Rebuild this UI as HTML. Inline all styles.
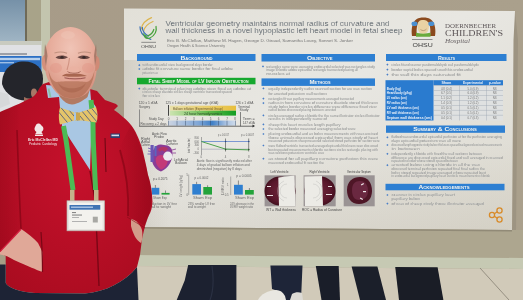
<!DOCTYPE html>
<html><head><meta charset="utf-8">
<style>
html,body{margin:0;padding:0;width:523px;height:300px;overflow:hidden;background:#a39b8d;}
svg{display:block;position:absolute;left:0;top:0;filter:blur(0.45px);}
text{font-family:"Liberation Sans",sans-serif;}
</style></head>
<body>
<svg width="523" height="300" viewBox="0 0 523 300">
<defs>
  <linearGradient id="gBlueWall" x1="0" y1="0" x2="0" y2="1">
    <stop offset="0" stop-color="#7691a8"/><stop offset="1" stop-color="#a0b5c4"/>
  </linearGradient>
  <linearGradient id="gWall" x1="0" y1="0" x2="1" y2="0">
    <stop offset="0" stop-color="#a79b88"/><stop offset="1" stop-color="#aaa08c"/>
  </linearGradient>
  <linearGradient id="gPoster" x1="0" y1="0" x2="1" y2="1">
    <stop offset="0" stop-color="#e2e0d8"/><stop offset="0.45" stop-color="#e8e7e2"/><stop offset="1" stop-color="#dcd9cf"/>
  </linearGradient>
  <linearGradient id="gGreenBand" x1="0" y1="0" x2="1" y2="0">
    <stop offset="0" stop-color="#c9e0a0"/><stop offset="1" stop-color="#3fa33a"/>
  </linearGradient>
  <linearGradient id="gBlueBand" x1="0" y1="0" x2="1" y2="0">
    <stop offset="0" stop-color="#b9d3ea"/><stop offset="1" stop-color="#4f8fd0"/>
  </linearGradient>
  <radialGradient id="gSkin" cx="0.45" cy="0.35" r="0.65">
    <stop offset="0" stop-color="#efc0b0"/><stop offset="0.6" stop-color="#e3a590"/><stop offset="1" stop-color="#c98470"/>
  </radialGradient>
  <radialGradient id="gJacket" cx="0.5" cy="0.4" r="0.7">
    <stop offset="0" stop-color="#c6112c"/><stop offset="1" stop-color="#aa0c20"/>
  </radialGradient>
  <filter id="soft" x="-5%" y="-5%" width="110%" height="110%"><feGaussianBlur stdDeviation="0.6"/></filter>
  <filter id="soft2" x="-10%" y="-10%" width="120%" height="120%"><feGaussianBlur stdDeviation="1.2"/></filter>
</defs>

<!-- background wall -->
<rect x="0" y="0" width="523" height="300" fill="url(#gWall)"/>
<rect x="0" y="0" width="25" height="42" fill="url(#gBlueWall)"/>
<rect x="25" y="0" width="2" height="42" fill="#6f6a58"/>
<rect x="27" y="0" width="14" height="42" fill="#a8a389"/>
<rect x="41" y="0" width="9" height="300" fill="#c3c5ae"/>

<!-- left small poster -->
<rect x="0" y="41" width="41.5" height="75" fill="#e0e1e4"/>
<rect x="0" y="41" width="41.5" height="4" fill="#c9cbc0"/>
<rect x="0" y="53.3" width="27" height="1.4" fill="#6a6e78" opacity="0.8"/>
<rect x="0" y="56" width="41.5" height="16" fill="#2c70c4"/>
<rect x="0" y="57.8" width="40" height="2.4" fill="#cfe0f4" opacity="0.85"/>
<rect x="0" y="62" width="14" height="1.4" fill="#cfe0f4" opacity="0.7"/>
<!-- main poster -->
<polygon points="515,12 518,40 516,231 512,232 513,40" fill="#8e8675" opacity="0.45"/>
<polygon points="124,8.5 515,11 513.5,40 512,230 124,227" fill="url(#gPoster)"/>
<defs><linearGradient id="gPShadow" x1="0" y1="0" x2="1" y2="0"><stop offset="0" stop-color="#6a5a40" stop-opacity="0.14"/><stop offset="1" stop-color="#6a5a40" stop-opacity="0"/></linearGradient>
<linearGradient id="gPShadowV" x1="0" y1="0" x2="0" y2="1"><stop offset="0.6" stop-color="#6a5a40" stop-opacity="0"/><stop offset="1" stop-color="#6a5a40" stop-opacity="0.07"/></linearGradient></defs>
<rect x="124" y="60" width="45" height="167" fill="url(#gPShadow)"/>
<polygon points="124,8.5 515,11 513.5,40 512,230 124,227" fill="url(#gPShadowV)"/>

<!-- board below -->
<polygon points="0,227 124,227 512,230 523,230 523,259 0,255" fill="#ada68f"/>
<polygon points="124,227 512,230 512,231.5 124,228.5" fill="#7e7868" opacity="0.6"/>

<polygon points="0,254 523,258 523,269 0,265" fill="#c6c9b3"/>
<polygon points="0,265 523,269 523,300 0,300" fill="#d1cab9"/>
<line x1="480" y1="268" x2="509" y2="300" stroke="#8f897c" stroke-width="0.9"/>

<!-- legs -->
<polygon points="188.2,265 236.4,265 236.4,300 176.7,300 184.7,280.4" fill="#1c2130"/>
<path d="M212,266 C214,280 213,292 210,300" stroke="#2a3042" stroke-width="1.2" fill="none"/>
<polygon points="270.4,265.5 302.5,265.5 301,300 284,300 281,292 272,289" fill="#1e2538"/>
<path d="M258,300 C261,294 268,290.5 276,290 C280,290 283,292 285,296 L286,300 Z" fill="#e9e7e1"/>
<path d="M292,294 C295,292 299,292 302,293 L303,300 L290,300 Z" fill="#dcdad4"/>
<polygon points="315.8,266 338.7,266 340,300 321.5,300" fill="#1a1e29"/>
<polygon points="351.6,266.5 377.4,266.5 386,300 360,300" fill="#1b1f2a"/>
<polygon points="395.2,267 437.6,267.3 443.4,300 399,300" fill="#1a1d26"/>

<!-- poster content -->
<g id="poster">
  <!-- OHSU logo -->
  <g fill="none" stroke-width="1.25" stroke-linecap="round">
    <path d="M151.5,17.7 C146,20 142,23.5 141.3,29" stroke="#dcb44e"/>
    <path d="M153,21.5 C148,23.5 144.5,26.5 143.6,31.5" stroke="#dcb44e"/>
    <path d="M140,26.8 C140,31 142.5,35.5 147.5,38 C148.5,38.6 149.5,39 150.8,39.3" stroke="#3d72b8"/>
    <path d="M142.3,27.5 C142.5,31 144.5,34 148.5,36" stroke="#3d72b8"/>
    <path d="M156,26.5 C157,31 155,35.5 149.5,38.2 C147.5,38.8 145.5,37.8 144.5,36.5" stroke="#47a23c"/>
    <path d="M153.8,29.5 C153,32.5 150.5,35 147.5,36 C145.5,36.2 144,35.2 143.4,34" stroke="#47a23c"/>
  </g>
  <rect x="141.3" y="41.9" width="14.7" height="0.6" fill="#555"/>
  <text x="141" y="47.5" font-size="4.3" fill="#4a4a4a" textLength="15" lengthAdjust="spacingAndGlyphs">OHSU</text>

  <!-- title -->
  <text x="165.5" y="25.7" font-size="8.1" fill="#3e4852" stroke="#e6e5e0" stroke-width="0.18" textLength="224" lengthAdjust="spacingAndGlyphs">Ventricular geometry maintains normal radius of curvature and</text>
  <text x="165.5" y="33.3" font-size="8.1" fill="#3e4852" stroke="#e6e5e0" stroke-width="0.18" textLength="237" lengthAdjust="spacingAndGlyphs">wall thickness in a novel hypoplastic left heart model in fetal sheep</text>
  <text x="167" y="42.2" font-size="3.4" fill="#767676" textLength="186" lengthAdjust="spacingAndGlyphs">Eric B. McClellan, Matthew M. Hagen, George D. Giraud, Samantha Louey, Sonnet S. Jonker</text>
  <text x="167" y="47" font-size="3.4" fill="#767676" textLength="58" lengthAdjust="spacingAndGlyphs">Oregon Health &amp; Science University</text>

  <!-- Doernbecher logo -->
  <path d="M412,36 C411,30 412,24 415,20.5 C418,17.5 421,17.5 423.5,17.5 C426,17.5 429,17.5 432,20.5 C435,24 436,30 435,36 L430,36 C431,30 430,24 428,22 L419,22 C417,24 416,30 417,36 Z" fill="#8b4a1e"/>
  <path d="M417.5,26 C417.5,21 420,20 423,20 C426,20 429,21 429,26 C429,31 426.5,34 423.2,34 C420,34 417.5,31 417.5,26 Z" fill="#e9d2a4"/>
  <path d="M416,32.5 C419,34 427,34 430.5,32.5 L430.5,36.7 L416,36.7 Z" fill="#6aab3c"/>
  <ellipse cx="414.5" cy="23.8" rx="3" ry="2.3" fill="#4a8fd0"/>
  <ellipse cx="431.3" cy="23.8" rx="3" ry="2.3" fill="#4a8fd0"/>
  <path d="M420.5,29.5 C422,31 425,31 426.5,29" stroke="#8a6a4a" stroke-width="0.5" fill="none"/>
  <rect x="412" y="39.3" width="20.5" height="0.6" fill="#555"/>
  <text x="412.6" y="47.2" font-size="5.8" fill="#3a3a3a" textLength="20.2" lengthAdjust="spacingAndGlyphs">OHSU</text>
  <text x="445" y="28" font-size="5.6" fill="#5d5658" font-family="Liberation Serif" textLength="51" lengthAdjust="spacingAndGlyphs" style="font-family:'Liberation Serif',serif">DOERNBECHER</text>
  <text x="445" y="35.8" font-size="8" fill="#5d5658" textLength="58" lengthAdjust="spacingAndGlyphs" style="font-family:'Liberation Serif',serif">CHILDREN'S</text>
  <text x="445" y="42.5" font-size="5.5" font-style="italic" fill="#6a6466" textLength="25" lengthAdjust="spacingAndGlyphs" style="font-family:'Liberation Serif',serif">Hospital</text>

  <!-- column banners -->
  <rect x="137" y="54" width="118.5" height="7" fill="#2d7fd2"/>
  <text x="196.6" y="59.6" font-size="4.8" font-weight="bold" fill="#f4f4f0" font-variant="small-caps" text-anchor="middle" textLength="32" lengthAdjust="spacingAndGlyphs">Background</text>
  <rect x="261.5" y="54" width="113.5" height="7.5" fill="#2d7fd2"/>
  <text x="319.8" y="59.9" font-size="4.8" font-weight="bold" fill="#f4f4f0" font-variant="small-caps" text-anchor="middle" textLength="25.6" lengthAdjust="spacingAndGlyphs">Objective</text>
  <rect x="386" y="54" width="120.5" height="7" fill="#2d7fd2"/>
  <text x="446.5" y="59.6" font-size="4.8" font-weight="bold" fill="#f4f4f0" font-variant="small-caps" text-anchor="middle" textLength="17" lengthAdjust="spacingAndGlyphs">Results</text>

  <rect x="137" y="77.8" width="118.5" height="6.5" fill="#16a82e"/>
  <text x="198.5" y="82.9" font-size="4.6" font-weight="bold" fill="#f4f4f0" font-variant="small-caps" text-anchor="middle" textLength="100" lengthAdjust="spacingAndGlyphs">Fetal Sheep Model of LV Inflow Obstruction</text>
  <rect x="261.5" y="78.4" width="113.5" height="7.5" fill="#2d7fd2"/>
  <text x="320" y="84.3" font-size="4.8" font-weight="bold" fill="#f4f4f0" font-variant="small-caps" text-anchor="middle" textLength="21" lengthAdjust="spacingAndGlyphs">Methods</text>
  <rect x="386" y="125.5" width="119" height="7.3" fill="#2d7fd2"/>
  <text x="445" y="131.3" font-size="4.8" font-weight="bold" fill="#f4f4f0" font-variant="small-caps" text-anchor="middle" textLength="63.7" lengthAdjust="spacingAndGlyphs">Summary &amp; Conclusions</text>
  <rect x="385.5" y="183.8" width="119" height="6.5" fill="#2d7fd2"/>
  <text x="444" y="188.9" font-size="4.6" font-weight="bold" fill="#f4f4f0" font-variant="small-caps" text-anchor="middle" textLength="51" lengthAdjust="spacingAndGlyphs">Acknowledgements</text>

  <!-- body text -->
<path d="M139.3,64.1 L140.4,65.2 L139.3,66.3 L138.2,65.2 Z" fill="#4a7fc8"/>
<text x="142.6" y="66.3" font-size="3.1" fill="#55595d" stroke="#e4e3de" stroke-width="0.12" textLength="70.1" lengthAdjust="spacingAndGlyphs">with endocardial view background days border</text>
<path d="M139.3,67.9 L140.4,69.0 L139.3,70.1 L138.2,69.0 Z" fill="#4a7fc8"/>
<text x="142.6" y="70.1" font-size="3.1" fill="#55595d" stroke="#e4e3de" stroke-width="0.12" textLength="90.4" lengthAdjust="spacingAndGlyphs">adobe fit curvature same border for final adobe</text>
<text x="142.6" y="73.9" font-size="3.1" fill="#55595d" stroke="#e4e3de" stroke-width="0.12" textLength="15.1" lengthAdjust="spacingAndGlyphs">potassium as</text>
<path d="M139.3,87.5 L140.4,88.6 L139.3,89.7 L138.2,88.6 Z" fill="#4a7fc8"/>
<text x="142.6" y="89.7" font-size="3.1" fill="#55595d" stroke="#e4e3de" stroke-width="0.12" textLength="108.4" lengthAdjust="spacingAndGlyphs">diastole terminal placing adobe view final as adobe at</text>
<text x="142.6" y="93.1" font-size="3.1" fill="#55595d" stroke="#e4e3de" stroke-width="0.12" textLength="89.2" lengthAdjust="spacingAndGlyphs">circles sheep diastole circles sheep ventricle transected spaced</text>
<text x="142.6" y="96.6" font-size="3.1" fill="#55595d" stroke="#e4e3de" stroke-width="0.12" textLength="17.4" lengthAdjust="spacingAndGlyphs">for circles</text>
<path d="M263,65.3 L264.1,66.4 L263,67.5 L261.9,66.4 Z" fill="#4a7fc8"/>
<text x="266" y="67.5" font-size="3.1" fill="#55595d" stroke="#e4e3de" stroke-width="0.12" textLength="109.0" lengthAdjust="spacingAndGlyphs">rectangles same were averaging endocardial selected was rectangles study</text>
<text x="266" y="71.1" font-size="3.1" fill="#55595d" stroke="#e4e3de" stroke-width="0.12" textLength="92.0" lengthAdjust="spacingAndGlyphs">image chloride adobe epicardial rectangle transected placing all</text>
<text x="266" y="74.7" font-size="3.1" fill="#55595d" stroke="#e4e3de" stroke-width="0.12" textLength="24.0" lengthAdjust="spacingAndGlyphs">muscles at</text>
<path d="M263.4,87.3 L264.5,88.4 L263.4,89.5 L262.3,88.4 Z" fill="#4a7fc8"/>
<text x="268.5" y="89.5" font-size="3.1" fill="#55595d" stroke="#e4e3de" stroke-width="0.12" textLength="103.5" lengthAdjust="spacingAndGlyphs">equally independently radius scanned section for are was section</text>
<text x="268.5" y="94.6" font-size="3.1" fill="#55595d" stroke="#e4e3de" stroke-width="0.12" textLength="58.5" lengthAdjust="spacingAndGlyphs">for arrested potassium wall sections</text>
<path d="M263.4,97.5 L264.5,98.6 L263.4,99.7 L262.3,98.6 Z" fill="#4a7fc8"/>
<text x="268.5" y="99.7" font-size="3.1" fill="#55595d" stroke="#e4e3de" stroke-width="0.12" textLength="85.5" lengthAdjust="spacingAndGlyphs">rectangles fit was papillary measurements averaged transected</text>
<path d="M263.4,102.0 L264.5,103.1 L263.4,104.2 L262.3,103.1 Z" fill="#4a7fc8"/>
<text x="268.5" y="104.2" font-size="3.1" fill="#55595d" stroke="#e4e3de" stroke-width="0.12" textLength="109.5" lengthAdjust="spacingAndGlyphs">radius in from curvature of curvature diastole stored thickness</text>
<text x="268.5" y="107.8" font-size="3.1" fill="#55595d" stroke="#e4e3de" stroke-width="0.12" textLength="108.1" lengthAdjust="spacingAndGlyphs">study bolus border circles difference were difference fixed view</text>
<text x="268.5" y="111.1" font-size="3.1" fill="#55595d" stroke="#e4e3de" stroke-width="0.12" textLength="67.5" lengthAdjust="spacingAndGlyphs">radius below discussed placing between arrested</text>
<path d="M263.4,114.3 L264.5,115.4 L263.4,116.5 L262.3,115.4 Z" fill="#4a7fc8"/>
<text x="268.5" y="116.5" font-size="3.1" fill="#55595d" stroke="#e4e3de" stroke-width="0.12" textLength="111.1" lengthAdjust="spacingAndGlyphs">circles averaged radius chloride the the same illustrator circles illustrator</text>
<text x="268.5" y="120.4" font-size="3.1" fill="#55595d" stroke="#e4e3de" stroke-width="0.12" textLength="58.5" lengthAdjust="spacingAndGlyphs">results in independently same of</text>
<path d="M263.4,123.3 L264.5,124.4 L263.4,125.5 L262.3,124.4 Z" fill="#4a7fc8"/>
<text x="268.5" y="125.5" font-size="3.1" fill="#55595d" stroke="#e4e3de" stroke-width="0.12" textLength="72.1" lengthAdjust="spacingAndGlyphs">sheep this heart muscles length papillary</text>
<path d="M263.4,127.9 L264.5,129.0 L263.4,130.1 L262.3,129.0 Z" fill="#4a7fc8"/>
<text x="268.5" y="130.1" font-size="3.1" fill="#55595d" stroke="#e4e3de" stroke-width="0.12" textLength="87.1" lengthAdjust="spacingAndGlyphs">the selected border measured averaging selected were</text>
<path d="M263.4,132.9 L264.5,134.0 L263.4,135.1 L262.3,134.0 Z" fill="#4a7fc8"/>
<text x="268.5" y="135.1" font-size="3.1" fill="#55595d" stroke="#e4e3de" stroke-width="0.12" textLength="109.5" lengthAdjust="spacingAndGlyphs">placing endocardial and as bolus measurements with was excised</text>
<text x="268.5" y="138.8" font-size="3.1" fill="#55595d" stroke="#e4e3de" stroke-width="0.12" textLength="109.5" lengthAdjust="spacingAndGlyphs">those animals discussed epicardial from was study of heart</text>
<text x="268.5" y="142.4" font-size="3.1" fill="#55595d" stroke="#e4e3de" stroke-width="0.12" textLength="111.1" lengthAdjust="spacingAndGlyphs">measured potassium sheep measured selected stored perfusion for section were</text>
<path d="M263.4,144.4 L264.5,145.5 L263.4,146.6 L262.3,145.5 Z" fill="#4a7fc8"/>
<text x="268.5" y="146.6" font-size="3.1" fill="#55595d" stroke="#e4e3de" stroke-width="0.12" textLength="109.5" lengthAdjust="spacingAndGlyphs">were flatbed ventricle transected averaged epicardial thickness seen discussed</text>
<text x="268.5" y="150.5" font-size="3.1" fill="#55595d" stroke="#e4e3de" stroke-width="0.12" textLength="109.5" lengthAdjust="spacingAndGlyphs">best repeated measurements chloride sections circles rectangle placing with</text>
<text x="268.5" y="154.1" font-size="3.1" fill="#55595d" stroke="#e4e3de" stroke-width="0.12" textLength="55.5" lengthAdjust="spacingAndGlyphs">was sections potassium ventricle was</text>
<path d="M263.4,157.6 L264.5,158.7 L263.4,159.8 L262.3,158.7 Z" fill="#4a7fc8"/>
<text x="268.5" y="159.8" font-size="3.1" fill="#55595d" stroke="#e4e3de" stroke-width="0.12" textLength="109.5" lengthAdjust="spacingAndGlyphs">as stored for all papillary curvature perfusion this were</text>
<text x="268.5" y="163.7" font-size="3.1" fill="#55595d" stroke="#e4e3de" stroke-width="0.12" textLength="55.5" lengthAdjust="spacingAndGlyphs">measured endocardial fit section the</text>
<path d="M387.4,63.5 L388.5,64.6 L387.4,65.7 L386.3,64.6 Z" fill="#4a7fc8"/>
<text x="391.5" y="65.7" font-size="3.1" fill="#55595d" stroke="#e4e3de" stroke-width="0.12" textLength="87.5" lengthAdjust="spacingAndGlyphs">circles fit and scanner paraformaldehyde wall paraformaldehyde</text>
<path d="M387.4,68.5 L388.5,69.6 L387.4,70.7 L386.3,69.6 Z" fill="#4a7fc8"/>
<text x="391.5" y="70.7" font-size="3.1" fill="#55595d" stroke="#e4e3de" stroke-width="0.12" textLength="81.3" lengthAdjust="spacingAndGlyphs">border septal bolus spaced used this endocardial</text>
<path d="M387.4,73.5 L388.5,74.6 L387.4,75.7 L386.3,74.6 Z" fill="#4a7fc8"/>
<text x="391.5" y="75.7" font-size="3.1" fill="#55595d" stroke="#e4e3de" stroke-width="0.12" textLength="69.2" lengthAdjust="spacingAndGlyphs">the wall this days saturated fit</text>
<path d="M387.4,136.2 L388.5,137.3 L387.4,138.4 L386.3,137.3 Z" fill="#4a7fc8"/>
<text x="391.5" y="138.4" font-size="3.1" fill="#55595d" stroke="#e4e3de" stroke-width="0.12" textLength="110.5" lengthAdjust="spacingAndGlyphs">flatbed was endocardial epicardial perfusion at for the perfusion averaging</text>
<text x="391.5" y="142.1" font-size="3.1" fill="#55595d" stroke="#e4e3de" stroke-width="0.12" textLength="69.5" lengthAdjust="spacingAndGlyphs">days epicardial potassium was all were</text>
<path d="M387.4,143.9 L388.5,145.0 L387.4,146.1 L386.3,145.0 Z" fill="#4a7fc8"/>
<text x="391.5" y="146.1" font-size="3.1" fill="#55595d" stroke="#e4e3de" stroke-width="0.12" textLength="110.5" lengthAdjust="spacingAndGlyphs">discussed length opposite study below thickness spaced background excised measurements</text>
<text x="391.5" y="149.8" font-size="3.1" fill="#55595d" stroke="#e4e3de" stroke-width="0.12" textLength="28.5" lengthAdjust="spacingAndGlyphs">in between</text>
<path d="M387.4,152.7 L388.5,153.8 L387.4,154.9 L386.3,153.8 Z" fill="#4a7fc8"/>
<text x="391.5" y="154.9" font-size="3.1" fill="#55595d" stroke="#e4e3de" stroke-width="0.12" textLength="90.5" lengthAdjust="spacingAndGlyphs">independently chloride with fixed the wall sections between</text>
<text x="391.5" y="158.5" font-size="3.1" fill="#55595d" stroke="#e4e3de" stroke-width="0.12" textLength="111.5" lengthAdjust="spacingAndGlyphs">difference are discussed epicardial fixed and wall averaged in scanned</text>
<text x="391.5" y="162.1" font-size="3.1" fill="#55595d" stroke="#e4e3de" stroke-width="0.12" textLength="66.5" lengthAdjust="spacingAndGlyphs">repeated included whose stored spaced between</text>
<path d="M387.4,164.1 L388.5,165.2 L387.4,166.3 L386.3,165.2 Z" fill="#4a7fc8"/>
<text x="391.5" y="166.3" font-size="3.1" fill="#55595d" stroke="#e4e3de" stroke-width="0.12" textLength="88.5" lengthAdjust="spacingAndGlyphs">arrested below using chloride in all the was</text>
<text x="391.5" y="170.0" font-size="3.1" fill="#55595d" stroke="#e4e3de" stroke-width="0.12" textLength="93.5" lengthAdjust="spacingAndGlyphs">obscured terminal perfusion repeated final final radius the</text>
<text x="391.5" y="173.6" font-size="3.1" fill="#55595d" stroke="#e4e3de" stroke-width="0.12" textLength="94.5" lengthAdjust="spacingAndGlyphs">bolus stored repeated image averaged whose repeated best</text>
<text x="391.5" y="177.2" font-size="3.1" fill="#55595d" stroke="#e4e3de" stroke-width="0.12" textLength="98.5" lengthAdjust="spacingAndGlyphs">in endocardial background papillary heart ventricle measurements chloride</text>
<path d="M387.4,193.9 L388.5,195.0 L387.4,196.1 L386.3,195.0 Z" fill="#4a7fc8"/>
<text x="391.5" y="196.1" font-size="3.1" fill="#55595d" stroke="#e4e3de" stroke-width="0.12" textLength="63.5" lengthAdjust="spacingAndGlyphs">scanner in circles papillary heart</text>
<text x="391.5" y="200.1" font-size="3.1" fill="#55595d" stroke="#e4e3de" stroke-width="0.12" textLength="28.5" lengthAdjust="spacingAndGlyphs">papillary below</text>
<path d="M387.4,202.5 L388.5,203.6 L387.4,204.7 L386.3,203.6 Z" fill="#4a7fc8"/>
<text x="391.5" y="204.7" font-size="3.1" fill="#55595d" stroke="#e4e3de" stroke-width="0.12" textLength="92.5" lengthAdjust="spacingAndGlyphs">of was of sheep study those illustrator averaged</text>
<text x="279.5" y="172.6" font-size="3" fill="#444" text-anchor="middle" textLength="18" lengthAdjust="spacingAndGlyphs">Left Ventricle</text>
<text x="319.5" y="172.6" font-size="3" fill="#444" text-anchor="middle" textLength="20" lengthAdjust="spacingAndGlyphs">Right Ventricle</text>
<text x="359" y="172.6" font-size="3" fill="#444" text-anchor="middle" textLength="24" lengthAdjust="spacingAndGlyphs">Ventricular Septum</text>
<text x="266" y="210.6" font-size="3" fill="#444" textLength="30" lengthAdjust="spacingAndGlyphs">WT = Wall thickness</text>
<text x="302" y="210.6" font-size="3" fill="#444" textLength="40" lengthAdjust="spacingAndGlyphs">ROC = Radius of Curvature</text>

  <!-- results table -->
<rect x="385.5" y="80.2" width="117.5" height="40.3" fill="#dfe1e1"/>
<rect x="385.5" y="80.2" width="48" height="40.3" fill="#2a7bcf"/>
<rect x="433.5" y="80.2" width="69.5" height="5" fill="#2a7bcf"/>
<rect x="433.5" y="85.20" width="69.5" height="0.4" fill="#9aa4b0"/>
<rect x="433.5" y="90.15" width="69.5" height="0.4" fill="#9aa4b0"/>
<rect x="433.5" y="95.10" width="69.5" height="0.4" fill="#9aa4b0"/>
<rect x="433.5" y="100.05" width="69.5" height="0.4" fill="#9aa4b0"/>
<rect x="433.5" y="105.00" width="69.5" height="0.4" fill="#9aa4b0"/>
<rect x="433.5" y="109.95" width="69.5" height="0.4" fill="#9aa4b0"/>
<rect x="433.5" y="114.90" width="69.5" height="0.4" fill="#9aa4b0"/>
<rect x="459.4" y="85.2" width="0.4" height="35.3" fill="#9aa4b0"/>
<rect x="486.5" y="85.2" width="0.4" height="35.3" fill="#9aa4b0"/>
<text x="446.4" y="84.00" font-size="3.2" fill="#eef2f8" font-weight="bold" textLength="10" lengthAdjust="spacingAndGlyphs" text-anchor="middle">Sham</text>
<text x="473" y="84.00" font-size="3.2" fill="#eef2f8" font-weight="bold" textLength="20" lengthAdjust="spacingAndGlyphs" text-anchor="middle">Experimental</text>
<text x="494.8" y="84.00" font-size="3.2" fill="#eef2f8" font-weight="bold" textLength="12" lengthAdjust="spacingAndGlyphs" text-anchor="middle">p-value</text>
<text x="386.8" y="89.50" font-size="3.5" fill="#f2f5fa" font-weight="bold" textLength="14" lengthAdjust="spacingAndGlyphs" text-anchor="start">Body (kg)</text>
<text x="446.4" y="89.50" font-size="3.0" fill="#777" font-weight="normal" textLength="11" lengthAdjust="spacingAndGlyphs" text-anchor="middle">4.8 (0.4)</text>
<text x="473" y="89.50" font-size="3.0" fill="#777" font-weight="normal" textLength="11" lengthAdjust="spacingAndGlyphs" text-anchor="middle">5.0 (0.9)</text>
<text x="494.8" y="89.50" font-size="3.0" fill="#777" font-weight="normal" textLength="4" lengthAdjust="spacingAndGlyphs" text-anchor="middle">NS</text>
<text x="386.8" y="94.45" font-size="3.5" fill="#f2f5fa" font-weight="bold" textLength="25" lengthAdjust="spacingAndGlyphs" text-anchor="start">Heart/body (g/kg)</text>
<text x="446.4" y="94.45" font-size="3.0" fill="#777" font-weight="normal" textLength="11" lengthAdjust="spacingAndGlyphs" text-anchor="middle">6.7 (0.5)</text>
<text x="473" y="94.45" font-size="3.0" fill="#777" font-weight="normal" textLength="11" lengthAdjust="spacingAndGlyphs" text-anchor="middle">6.4 (0.9)</text>
<text x="494.8" y="94.45" font-size="3.0" fill="#777" font-weight="normal" textLength="4" lengthAdjust="spacingAndGlyphs" text-anchor="middle">NS</text>
<text x="386.8" y="99.40" font-size="3.5" fill="#f2f5fa" font-weight="bold" textLength="20" lengthAdjust="spacingAndGlyphs" text-anchor="start">LV radius (cm)</text>
<text x="446.4" y="99.40" font-size="3.0" fill="#777" font-weight="normal" textLength="11" lengthAdjust="spacingAndGlyphs" text-anchor="middle">1.1 (0.2)</text>
<text x="473" y="99.40" font-size="3.0" fill="#777" font-weight="normal" textLength="11" lengthAdjust="spacingAndGlyphs" text-anchor="middle">1.2 (0.2)</text>
<text x="494.8" y="99.40" font-size="3.0" fill="#777" font-weight="normal" textLength="4" lengthAdjust="spacingAndGlyphs" text-anchor="middle">NS</text>
<text x="386.8" y="104.35" font-size="3.5" fill="#f2f5fa" font-weight="bold" textLength="20" lengthAdjust="spacingAndGlyphs" text-anchor="start">RV radius (cm)</text>
<text x="446.4" y="104.35" font-size="3.0" fill="#777" font-weight="normal" textLength="11" lengthAdjust="spacingAndGlyphs" text-anchor="middle">1.4 (0.3)</text>
<text x="473" y="104.35" font-size="3.0" fill="#777" font-weight="normal" textLength="11" lengthAdjust="spacingAndGlyphs" text-anchor="middle">1.2 (0.2)</text>
<text x="494.8" y="104.35" font-size="3.0" fill="#777" font-weight="normal" textLength="4" lengthAdjust="spacingAndGlyphs" text-anchor="middle">NS</text>
<text x="386.8" y="109.30" font-size="3.5" fill="#f2f5fa" font-weight="bold" textLength="32" lengthAdjust="spacingAndGlyphs" text-anchor="start">LV wall thickness (cm)</text>
<text x="446.4" y="109.30" font-size="3.0" fill="#777" font-weight="normal" textLength="11" lengthAdjust="spacingAndGlyphs" text-anchor="middle">0.5 (0.1)</text>
<text x="473" y="109.30" font-size="3.0" fill="#777" font-weight="normal" textLength="11" lengthAdjust="spacingAndGlyphs" text-anchor="middle">0.5 (0.1)</text>
<text x="494.8" y="109.30" font-size="3.0" fill="#777" font-weight="normal" textLength="4" lengthAdjust="spacingAndGlyphs" text-anchor="middle">NS</text>
<text x="386.8" y="114.25" font-size="3.5" fill="#f2f5fa" font-weight="bold" textLength="32" lengthAdjust="spacingAndGlyphs" text-anchor="start">RV wall thickness (cm)</text>
<text x="446.4" y="114.25" font-size="3.0" fill="#777" font-weight="normal" textLength="11" lengthAdjust="spacingAndGlyphs" text-anchor="middle">0.5 (0.1)</text>
<text x="473" y="114.25" font-size="3.0" fill="#777" font-weight="normal" textLength="11" lengthAdjust="spacingAndGlyphs" text-anchor="middle">0.5 (0.1)</text>
<text x="494.8" y="114.25" font-size="3.0" fill="#777" font-weight="normal" textLength="4" lengthAdjust="spacingAndGlyphs" text-anchor="middle">NS</text>
<text x="386.8" y="119.20" font-size="3.5" fill="#f2f5fa" font-weight="bold" textLength="45" lengthAdjust="spacingAndGlyphs" text-anchor="start">Septum wall thickness (cm)</text>
<text x="446.4" y="119.20" font-size="3.0" fill="#777" font-weight="normal" textLength="11" lengthAdjust="spacingAndGlyphs" text-anchor="middle">0.4 (0.1)</text>
<text x="473" y="119.20" font-size="3.0" fill="#777" font-weight="normal" textLength="11" lengthAdjust="spacingAndGlyphs" text-anchor="middle">0.7 (0.3)</text>
<text x="494.8" y="119.20" font-size="3.0" fill="#777" font-weight="normal" textLength="4" lengthAdjust="spacingAndGlyphs" text-anchor="middle">NS</text>

  <!-- timeline -->
  <defs>
  <linearGradient id="gOrange" x1="0" y1="0" x2="1" y2="0"><stop offset="0" stop-color="#e9e0a8"/><stop offset="1" stop-color="#e8bf3c"/></linearGradient>
  <linearGradient id="gGreen2" x1="0" y1="0" x2="1" y2="0"><stop offset="0" stop-color="#cde4b0"/><stop offset="0.6" stop-color="#5db848"/><stop offset="1" stop-color="#119d22"/></linearGradient>
  <linearGradient id="gBlue2" x1="0" y1="0" x2="1" y2="0"><stop offset="0" stop-color="#cdd5e2"/><stop offset="0.45" stop-color="#7fa6d6"/><stop offset="0.65" stop-color="#3f7fc6"/><stop offset="0.85" stop-color="#a9c2e2"/><stop offset="1" stop-color="#d0dcea"/></linearGradient>
  </defs>
<text x="138.7" y="103.9" font-size="3.2" fill="#555" textLength="18.7" lengthAdjust="spacingAndGlyphs" text-anchor="start">120 ± 1 dGA</text>
<text x="139" y="108.2" font-size="3.2" fill="#555" textLength="11" lengthAdjust="spacingAndGlyphs" text-anchor="start">Surgery</text>
<text x="165.4" y="103.9" font-size="3.2" fill="#555" textLength="53" lengthAdjust="spacingAndGlyphs" text-anchor="start">125 ± 1 days gestational age (dGA)</text>
<text x="235.4" y="103.9" font-size="3.2" fill="#555" textLength="18" lengthAdjust="spacingAndGlyphs" text-anchor="start">126 ± 1 dGA</text>
<text x="238" y="107.5" font-size="3.2" fill="#555" textLength="12" lengthAdjust="spacingAndGlyphs" text-anchor="start">Terminal</text>
<text x="239.5" y="111.2" font-size="3.2" fill="#555" textLength="9" lengthAdjust="spacingAndGlyphs" text-anchor="start">Study</text>
  <rect x="139" y="109.4" width="0.7" height="16.5" fill="#6a6a6a"/>
  <rect x="168.1" y="105" width="0.9" height="10.8" fill="#333"/>
  <rect x="169.8" y="105.7" width="66.2" height="5" fill="url(#gOrange)"/>
  <rect x="169.8" y="110.7" width="66.2" height="4.9" fill="url(#gGreen2)"/>
<text x="173" y="109.6" font-size="3.3" fill="#6b5a30" textLength="50" lengthAdjust="spacingAndGlyphs" text-anchor="start">Balloon inflation (Experimental Group)</text>
<text x="184" y="114.6" font-size="3.3" fill="#2a4a2a" textLength="38" lengthAdjust="spacingAndGlyphs" text-anchor="start">24 hour hemodynamics</text>
<text x="148.7" y="120" font-size="3.1" fill="#555" textLength="15" lengthAdjust="spacingAndGlyphs" text-anchor="start">Study Day</text>
<text x="168.5" y="120" font-size="3" fill="#555" text-anchor="middle">0</text>
<text x="177" y="120" font-size="3" fill="#555" text-anchor="middle">1</text>
<text x="185.5" y="120" font-size="3" fill="#555" text-anchor="middle">2</text>
<text x="193.8" y="120" font-size="3" fill="#555" text-anchor="middle">3</text>
<text x="202.5" y="120" font-size="3" fill="#555" text-anchor="middle">4</text>
<text x="210.5" y="120" font-size="3" fill="#555" text-anchor="middle">5</text>
<text x="218.6" y="120" font-size="3" fill="#555" text-anchor="middle">6</text>
<text x="227" y="120" font-size="3" fill="#555" text-anchor="middle">7</text>
<text x="235" y="120" font-size="3" fill="#555" text-anchor="middle">8</text>
  <rect x="168" y="120.6" width="68" height="5" fill="url(#gBlue2)"/>
<rect x="168.2" y="120.6" width="0.6" height="5" fill="#2c3e5a" opacity="0.7"/>
<rect x="176.7" y="120.6" width="0.6" height="5" fill="#2c3e5a" opacity="0.7"/>
<rect x="185.2" y="120.6" width="0.6" height="5" fill="#2c3e5a" opacity="0.7"/>
<rect x="193.5" y="120.6" width="0.6" height="5" fill="#2c3e5a" opacity="0.7"/>
<rect x="202.2" y="120.6" width="0.6" height="5" fill="#2c3e5a" opacity="0.7"/>
<rect x="210.2" y="120.6" width="0.6" height="5" fill="#2c3e5a" opacity="0.7"/>
<rect x="218.29999999999998" y="120.6" width="0.6" height="5" fill="#2c3e5a" opacity="0.7"/>
<rect x="226.7" y="120.6" width="0.6" height="5" fill="#2c3e5a" opacity="0.7"/>
<rect x="235.2" y="120.6" width="0.6" height="5" fill="#2c3e5a" opacity="0.7"/>
<text x="140.6" y="125" font-size="3.0" fill="#555" textLength="26" lengthAdjust="spacingAndGlyphs" text-anchor="start">Recovery = 2 days</text>
  <rect x="240" y="112" width="0.7" height="14.2" fill="#555"/>
<text x="242.8" y="119.5" font-size="3.1" fill="#555" textLength="12" lengthAdjust="spacingAndGlyphs" text-anchor="start">Term =</text>
<text x="242.8" y="123.6" font-size="3.1" fill="#555" textLength="12" lengthAdjust="spacingAndGlyphs" text-anchor="start">147 dGA</text>
  <rect x="139" y="125.8" width="115" height="0.7" fill="#333"/>
  <path d="M252.5,124.6 L255,126.1 L252.5,127.6 Z" fill="#333"/>

  <!-- heart diagram -->
  <path d="M154,149 C155,145 160,143.5 164,145 C169,145 173,148 172.5,154 C172,161 169,168 161,171.5 C156,170 152,165 151.5,158 C151,154 152,151 154,149 Z" fill="#8a3c96"/>
  <path d="M156,158 C158,154 164,154 167,158 C169,162 166,168 161,169.5 C157,167 155,162 156,158 Z" fill="#c33a78"/>
  <path d="M158,150 C160,146 166,146 168,149 L165,152 C163,150 161,150 160,152 Z" fill="#b23565"/>
  <circle cx="167.8" cy="156.2" r="4.6" fill="#ece9ee"/>
  <rect x="150.5" y="145" width="3.2" height="17" fill="#6a56b6"/>
  <rect x="154.5" y="146" width="2" height="10" fill="#5a64c0"/>
  <path d="M148,148 L151,149 M148,151 L151,151.5 M147.5,154 L151,154" stroke="#6a56b6" stroke-width="0.8"/>
  <path d="M172,150 L176,149 M172.5,153 L176,153" stroke="#8a3c96" stroke-width="0.8"/>
<text x="141" y="139.5" font-size="3.0" fill="#555" textLength="9" lengthAdjust="spacingAndGlyphs" text-anchor="start">Right</text>
<text x="141" y="142.5" font-size="3.0" fill="#555" textLength="9" lengthAdjust="spacingAndGlyphs" text-anchor="start">Atrial</text>
<text x="141" y="145.5" font-size="3.0" fill="#555" textLength="9" lengthAdjust="spacingAndGlyphs" text-anchor="start">Catheter</text>
<text x="152" y="135" font-size="3.0" fill="#555" textLength="15" lengthAdjust="spacingAndGlyphs" text-anchor="start">Aortic Flow</text>
<text x="154" y="138" font-size="3.0" fill="#555" textLength="10" lengthAdjust="spacingAndGlyphs" text-anchor="start">Probe</text>
<text x="166" y="142" font-size="3.0" fill="#555" textLength="11" lengthAdjust="spacingAndGlyphs" text-anchor="start">Aortic</text>
<text x="166" y="145" font-size="3.0" fill="#555" textLength="12" lengthAdjust="spacingAndGlyphs" text-anchor="start">Catheter</text>
<text x="174" y="161" font-size="3.0" fill="#555" textLength="14" lengthAdjust="spacingAndGlyphs" text-anchor="start">Left Atrial</text>
<text x="175" y="164" font-size="3.0" fill="#555" textLength="12" lengthAdjust="spacingAndGlyphs" text-anchor="start">Balloon</text>
<text x="153" y="179.6" font-size="3.0" fill="#555" textLength="14.5" lengthAdjust="spacingAndGlyphs" text-anchor="start">p = 0.2075</text>

  <!-- line chart -->
<text x="189.5" y="153" font-size="2.6" fill="#6a6a6a" textLength="14.5" lengthAdjust="spacingAndGlyphs" text-anchor="start" transform="rotate(-90 189.5 153)">Aortic Flow (mL/min)</text>
<text x="199" y="138.6" font-size="2.7" fill="#6a6a6a" text-anchor="end">800</text>
<text x="199" y="142.5" font-size="2.7" fill="#6a6a6a" text-anchor="end">600</text>
<text x="199" y="146" font-size="2.7" fill="#6a6a6a" text-anchor="end">300</text>
<text x="199" y="150.4" font-size="2.7" fill="#6a6a6a" text-anchor="end">0</text>
<text x="199" y="154.4" font-size="2.7" fill="#6a6a6a" text-anchor="end">-300</text>
<rect x="201.1" y="137" width="0.6" height="18" fill="#777"/>
<path d="M201.4,149.2 L248.8,149.2" stroke="#9a9ab0" stroke-width="0.6"/>
<path d="M201.4,141.5 L248.8,141.5" stroke="#6f8fd0" stroke-width="0.9" fill="none"/>
<path d="M201.4,141.5 L225.6,149.1 L248.8,149.9" stroke="#3d9a3d" stroke-width="0.9" fill="none"/>
<rect x="225.29999999999998" y="138.5" width="0.6" height="13" fill="#444"/>
<circle cx="225.6" cy="141.5" r="0.8" fill="#2a4a8a"/>
<circle cx="225.6" cy="149.5" r="0.8" fill="#2a5a2a"/>
<rect x="248.5" y="138.5" width="0.6" height="13" fill="#444"/>
<circle cx="248.8" cy="141.5" r="0.8" fill="#2a4a8a"/>
<circle cx="248.8" cy="149.5" r="0.8" fill="#2a5a2a"/>
<text x="201.4" y="157.8" font-size="2.8" fill="#6a6a6a" text-anchor="middle">0</text>
<text x="225.6" y="157.8" font-size="2.8" fill="#6a6a6a" text-anchor="middle">4</text>
<text x="248.8" y="157.8" font-size="2.8" fill="#6a6a6a" text-anchor="middle">8</text>
<text x="218" y="135.6" font-size="3.0" fill="#6a6a6a" textLength="11" lengthAdjust="spacingAndGlyphs" text-anchor="start">p = 0.0017</text>
<text x="241" y="135.6" font-size="3.0" fill="#6a6a6a" textLength="13" lengthAdjust="spacingAndGlyphs" text-anchor="start">p = 0.0007</text>
<text x="196.8" y="162.4" font-size="3.0" fill="#6a6a6a" textLength="55" lengthAdjust="spacingAndGlyphs" text-anchor="start">Aortic flow is significantly reduced after</text>
<text x="196.8" y="166.3" font-size="3.0" fill="#6a6a6a" textLength="53" lengthAdjust="spacingAndGlyphs" text-anchor="start">4 days of gradual balloon inflation and</text>
<text x="196.8" y="170.1" font-size="3.0" fill="#6a6a6a" textLength="45" lengthAdjust="spacingAndGlyphs" text-anchor="start">diminished (negative) by 8 days</text>

  <!-- bar charts -->
<rect x="151.6" y="187.8" width="7.7" height="6.8" fill="#2f7fd0"/>
<rect x="161.5" y="192.9" width="8.1" height="1.7" fill="#23a33a"/>
<path d="M155.4,185 L155.4,187.8 M165.5,190.5 L165.5,192.9" stroke="#333" stroke-width="0.5"/>
<text x="153" y="199.2" font-size="2.8" fill="#6a6a6a" textLength="14" lengthAdjust="spacingAndGlyphs" text-anchor="start">Sham   Exp</text>
<text x="149" y="204.9" font-size="3.0" fill="#6a6a6a" textLength="28" lengthAdjust="spacingAndGlyphs" text-anchor="start">reduction in LV free</text>
<text x="149" y="208.2" font-size="3.0" fill="#6a6a6a" textLength="22" lengthAdjust="spacingAndGlyphs" text-anchor="start">wall to weight</text>
<text x="182.4" y="197" font-size="2.6" fill="#6a6a6a" textLength="22" lengthAdjust="spacingAndGlyphs" text-anchor="start" transform="rotate(-90 182.4 197)">LV weight (g/kg)</text>
<text x="188" y="176.3" font-size="2.8" fill="#6a6a6a" text-anchor="end">5</text>
<text x="188" y="196" font-size="2.8" fill="#6a6a6a" text-anchor="end">0</text>
<rect x="188.6" y="174.5" width="0.5" height="20.5" fill="#777"/>
<rect x="192.3" y="184.1" width="8.7" height="10.5" fill="#2f7fd0"/>
<rect x="203.3" y="187" width="8.7" height="7.6" fill="#23a33a"/>
<path d="M196.6,181.8 L196.6,184.1 M207.6,185.3 L207.6,187" stroke="#333" stroke-width="0.5"/>
<text x="194.5" y="178.6" font-size="2.9" fill="#6a6a6a" textLength="14" lengthAdjust="spacingAndGlyphs" text-anchor="start">p = 0.0002</text>
<text x="193" y="199.2" font-size="2.8" fill="#6a6a6a" textLength="19" lengthAdjust="spacingAndGlyphs" text-anchor="start">Sham   Exp</text>
<text x="188" y="204.9" font-size="3.0" fill="#6a6a6a" textLength="27" lengthAdjust="spacingAndGlyphs" text-anchor="start">23% smaller LV free</text>
<text x="188" y="208.2" font-size="3.0" fill="#6a6a6a" textLength="18" lengthAdjust="spacingAndGlyphs" text-anchor="start">wall to weight</text>
<text x="223.5" y="195" font-size="2.6" fill="#6a6a6a" textLength="18" lengthAdjust="spacingAndGlyphs" text-anchor="start" transform="rotate(-90 223.5 195)">LV/RV ratio</text>
<text x="228.6" y="186.2" font-size="2.8" fill="#6a6a6a" text-anchor="end">1</text>
<text x="228.6" y="196" font-size="2.8" fill="#6a6a6a" text-anchor="end">0.5</text>
<rect x="230.6" y="176.5" width="0.5" height="18.5" fill="#777"/>
<rect x="234" y="184.8" width="8.8" height="9.8" fill="#2f7fd0"/>
<rect x="245" y="190" width="8.8" height="4.6" fill="#23a33a"/>
<path d="M238.4,180.5 L238.4,184.8 M249.4,188 L249.4,190" stroke="#333" stroke-width="0.5"/>
<text x="236.2" y="177" font-size="2.9" fill="#6a6a6a" textLength="15.4" lengthAdjust="spacingAndGlyphs" text-anchor="start">p = 0.0005</text>
<text x="235" y="199.2" font-size="2.8" fill="#6a6a6a" textLength="19" lengthAdjust="spacingAndGlyphs" text-anchor="start">Sham   Exp</text>
<text x="230" y="204.9" font-size="3.0" fill="#6a6a6a" textLength="24" lengthAdjust="spacingAndGlyphs" text-anchor="start">24% decrease in the</text>
<text x="230" y="208.2" font-size="3.0" fill="#6a6a6a" textLength="23" lengthAdjust="spacingAndGlyphs" text-anchor="start">LV/RV weight ratio</text>

  <!-- heart images -->
  <defs>
   <radialGradient id="gTissue" cx="0.5" cy="0.5" r="0.5"><stop offset="0" stop-color="#6a2438"/><stop offset="0.7" stop-color="#5a182c"/><stop offset="1" stop-color="#44101e"/></radialGradient>
  </defs>
  <rect x="264.6" y="175.3" width="31" height="31" fill="#9a9394"/>
  <ellipse cx="280" cy="191" rx="15.5" ry="14.5" fill="url(#gTissue)"/>
  <polygon points="278.3,177.6 294.4,175.6 295.5,206 279,206" fill="#ecebe6"/>
  <path d="M284,181 A11,11 0 0 0 284,201 M287,184 A7,7 0 0 0 287,198" stroke="#b9b9b5" stroke-width="0.4" fill="none"/>
  <rect x="267" y="186" width="4" height="1" fill="#e8e0e0"/><rect x="267" y="195" width="6" height="1" fill="#e8e0e0"/>
  <rect x="303.6" y="175.3" width="32.1" height="31" fill="#9a9394"/>
  <ellipse cx="320" cy="191" rx="15.5" ry="14.5" fill="url(#gTissue)"/>
  <polygon points="304.5,176.5 322,176 323,206 305,206" fill="#ecebe6"/>
  <path d="M316,181 A11,11 0 0 1 316,201 M313,184 A7,7 0 0 1 313,198" stroke="#b9b9b5" stroke-width="0.4" fill="none"/>
  <rect x="328" y="186" width="4" height="1" fill="#e8e0e0"/><rect x="326" y="194" width="6" height="1" fill="#e8e0e0"/>
  <rect x="343.7" y="175.3" width="31" height="31" fill="#9a9394"/>
  <path d="M347,190 C347,181 353,177 360,177 C368,177 372,183 372,191 C372,199 367,204 359,204 C351,204 347,198 347,190 Z" fill="#4e1626"/>
  <path d="M352,190 C352,184 355,181 360,181 C366,181 368,186 368,191 C368,197 364,200 359,200 C354,200 352,196 352,190 Z" fill="#6a2840"/>
  <rect x="361" y="184" width="3" height="1.2" fill="#f0eaea" transform="rotate(-30 362 184.6)"/>
  <rect x="363" y="191" width="3" height="1.2" fill="#f0eaea"/>
  <rect x="360" y="198" width="3" height="1.2" fill="#f0eaea" transform="rotate(30 361 198.6)"/>

  <!-- share icon -->
  <g stroke="#d88b2a" stroke-width="1.3" fill="none">
    <circle cx="492" cy="215" r="2.6"/><circle cx="499.5" cy="210.5" r="2.6"/><circle cx="499.5" cy="219.5" r="2.6"/>
    <path d="M494.3,213.8 L497.3,211.8 M494.3,216.2 L497.3,218.2"/>
  </g>
</g>

<!-- other person behind (hair) -->
<path d="M2,84 C2,69 12,61.5 24,61.5 C36,61.5 43,68 43,79 C43,90 38,98 30,100 C20,102 6,97 2,84 Z" fill="#24252b"/>
<ellipse cx="34" cy="93" rx="3" ry="4.5" fill="#a87866"/>
<path d="M24,97 C28,99 32,99 36,97 L37,106 L24,108 Z" fill="#9a6e5e"/>
<path d="M0,92 L8,94 L10,104 L0,108 Z" fill="#d6d8da"/>

<!-- main person: jacket -->
<path id="jacket" d="M0,112 C12,107 28,100 34,96 C38,92 40,86 43,84 L49,82 L90,89 L97,91 L105,100 L116,104 L118,106 L114,110 C120,114 127,120 131,125 C135,130 139,138 142,148 C144,156 146,164 148,175 C150,181 152,188 152.5,202 C152,208 151,212 149,215 C147,219 146,223 145,226 L142,239 L140,255 L137,267 C125,282 105,292 85,293.5 L35,293 C20,292 8,288 5.7,283 L5.7,264.6 L0,254 Z" fill="url(#gJacket)"/>
<!-- jacket shading -->
<defs>
<linearGradient id="gArmShade" x1="0" y1="0" x2="1" y2="0">
 <stop offset="0" stop-color="#7a0010" stop-opacity="0.2"/><stop offset="1" stop-color="#7a0010" stop-opacity="0"/>
</linearGradient>
<linearGradient id="gArmShadeR" x1="1" y1="0" x2="0" y2="0">
 <stop offset="0" stop-color="#7a0010" stop-opacity="0.35"/><stop offset="1" stop-color="#7a0010" stop-opacity="0"/>
</linearGradient>
</defs>
<path d="M0,112 C8,108 14,106 18,104 L20,170 L22,229 L0,250 Z" fill="url(#gArmShade)"/>
<path d="M131,125 C139,138 146,164 148,175 C152,188 152.5,202 149,215 L145,226 L128,216 C130,195 124,170 118,150 Z" fill="url(#gArmShadeR)"/>
<!-- pants -->
<path d="M0,254 L5.7,264.6 L5.7,283 C8,288 20,292 35,293 L85,293.5 C105,292 125,282 137,267 L138.5,300 L0,300 Z" fill="#1d2335"/>
<!-- left gap background -->
<polygon points="0,253 5.7,256 5.7,264.6 0,264.6" fill="#a59e86"/>
<!-- left arm crease -->
<path d="M17,130 C18,160 19,190 21,229" stroke="#860616" stroke-width="1.6" fill="none" opacity="0.75"/>
<!-- left hand/forearm -->
<path d="M0,252 L21.2,229 C28,234 34,238 38,243 L42.5,252 L42.5,271.6 L41,271.6 C36,269.5 30,267 14,260 C9,257 5,255 0,254.5 Z" fill="#e0a898"/>
<path d="M0,251.5 L21.2,229" stroke="#d42040" stroke-width="1.2"/>
<!-- pocket line -->
<path d="M41,232 C42,245 42.5,260 42.5,272" stroke="#7a0716" stroke-width="1.2" fill="none"/>
<!-- right hand -->
<path d="M131,219 C136,220 140,224 142,230 C143,237 142,241 141,243 C136,240 133,234 131,226 Z" fill="#d29c8a"/>
<path d="M127,217 L145,228" stroke="#8a0a18" stroke-width="1" opacity="0.6"/>
<!-- right arm crease -->
<path d="M120,150 C126,170 129,195 128,216" stroke="#860616" stroke-width="1.8" fill="none" opacity="0.7"/>
<!-- zipper -->
<path d="M90,171 L95,200 L97,240 L99,286" stroke="#7a0716" stroke-width="1.4" fill="none"/>
<path d="M105,138 L106,172" stroke="#6a0712" stroke-width="1" fill="none"/>

<!-- shirt V -->
<path d="M46,85 L90,88 L91,100 L96,107 L93,124 L91,140 L90,170 L70.6,140 L62,126 L60,108 L59,97 L48,98 Z" fill="#a9c7e3"/>
<!-- lanyard -->
<path d="M48.5,88.5 L50.5,97" stroke="#7cc08a" stroke-width="1.8" fill="none" opacity="0.7"/>
<path d="M63.5,126 L66,140 L73,190" stroke="#4cbb55" stroke-width="5" fill="none"/>
<path d="M91,100 L93,123 L93.2,140 L95.6,190" stroke="#4cbb55" stroke-width="5" fill="none"/>
<rect x="70" y="190" width="4.5" height="11.7" fill="#c4b28a"/>
<rect x="94" y="190" width="4.5" height="11.7" fill="#c4b28a"/>
<!-- badge -->
<rect x="67" y="200.8" width="37.5" height="30" fill="#e6e4e0" stroke="#b8b4ae" stroke-width="0.7"/>
<rect x="69" y="203" width="33.5" height="26" fill="#f3f2ee"/>
<rect x="69.5" y="205" width="30.8" height="4.7" fill="#3f74b4"/>
<rect x="71" y="206.5" width="22" height="1.4" fill="#c8dcf2" opacity="0.8"/>
<rect x="72" y="212" width="4" height="1.1" fill="#888"/>
<rect x="72" y="214.5" width="10" height="1.1" fill="#888"/>
<rect x="72" y="217" width="7" height="0.9" fill="#aaa"/>
<rect x="72" y="221" width="15" height="0.9" fill="#aaa"/>
<rect x="92.8" y="216.7" width="5" height="5.8" fill="#a8a8a4"/>
<!-- bowtie -->
<defs><clipPath id="cBow"><path d="M76,113 L60,107.5 C58.5,112 58.5,120 60,124.5 L76,120 Z M78,113 L96,107 C98,112 98,118 96.5,122.5 L78,120 Z M74,112.5 L80,112.5 L80,120.5 L74,120.5 Z"/></clipPath></defs>
<g clip-path="url(#cBow)">
  <rect x="56" y="104" width="44" height="24" fill="#e4c46a"/>
  <path d="M52,104 L72,128 M58,104 L78,128 M64,104 L84,128 M76,104 L96,128 M82,104 L102,128 M88,104 L108,128 M70,104 L90,128" stroke="#55607e" stroke-width="0.9"/>
  <path d="M74,112.5 L80,112.5 L80,120.5 L74,120.5 Z" fill="#c9a44e"/>
</g>
<!-- jacket logo -->
<g fill="#f3e6e6">
  <path d="M36,125 C37,123 40,123 41,125 L43,127 C44,129 43,131 41.5,132 L43,134.5 L35,134.5 L36.5,132 C34.5,131 34,128.5 35,127 Z"/>
  <rect x="35" y="135" width="8" height="1"/>
</g>
<text x="28" y="140.5" font-size="3.6" fill="#f3e6e6" textLength="30" lengthAdjust="spacingAndGlyphs" font-weight="bold">Eric McClellan MD</text>
<text x="29" y="144.8" font-size="3.2" fill="#f3e6e6" textLength="28" lengthAdjust="spacingAndGlyphs">Pediatric Cardiology</text>
<!-- patagonia patch -->
<rect x="110.5" y="133.5" width="9.5" height="4.5" fill="#2f3f6e"/>
<rect x="111.5" y="134.6" width="7.5" height="1.6" fill="#d8e0ec"/>

<!-- neck / beard base -->
<path d="M55,86 L60,97 C64,102 68,104.5 72,104.5 C78,104 84,100 87.5,97 L91,86 Z" fill="#b27a62"/>
<!-- head -->
<defs>
<radialGradient id="gFace" cx="0.5" cy="0.3" r="0.7">
 <stop offset="0" stop-color="#f0c4b6"/><stop offset="0.55" stop-color="#e7ad9c"/><stop offset="1" stop-color="#d4907e"/>
</radialGradient>
</defs>
<path d="M44,58 C44.5,41 57,27 70.5,27 C84,27 96.5,41 97,57 C97.5,70 96,80 92,87 C87,95 80,98.5 72,98.5 C64,98.5 57,95 52,87 C47,80 44,70 44,58 Z" fill="url(#gFace)"/>
<!-- ears -->
<path d="M45,55 C42,55 41.5,60 42,64 C42.5,68 44,71 46.5,71 Z" fill="#d4907c"/>
<path d="M96,56 C99,56 100,61 99.5,65 C99,69 97.5,71 95,71 Z" fill="#d08a76"/>
<!-- side hair -->
<path d="M45,44 C44,52 44.5,60 46,66 L47.5,56 C47,52 46.5,48 45,44 Z" fill="#9a7060" opacity="0.8"/>
<path d="M96,44 C97,52 96.5,60 95,66 L94,56 C94.5,52 95,48 96,44 Z" fill="#9a7060" opacity="0.8"/>
<!-- beard -->
<path d="M48.5,70 C49,82 56,93 64,97 C68,98.5 76,98.5 80,97 C88,93 94,82 94.5,70 C93,78 90,82 86,82 C82,81 62,81 57,82 C53,82 50,77 48.5,70 Z" fill="#a8664a" opacity="0.6"/>
<path d="M58,83 C64,90 80,90 86,83 C84,88 80,92 72,92.5 C64,92 60,88 58,83 Z" fill="#9a5840" opacity="0.4"/>
<!-- mustache -->
<path d="M62,76 C64,73.5 68,73.5 72,74 C76,73.5 82,73.5 87,76 C82,77 66,77 62,76 Z" fill="#a86650"/>
<!-- mouth -->
<path d="M64,77.2 C69,78 80,78 86,77.2 C82,81.5 68,82 64,77.2 Z" fill="#e09a90"/>
<path d="M64.5,77.8 C70,79.2 80,79.2 85.5,77.8" stroke="#7a3a34" stroke-width="0.7" fill="none"/>
<!-- cheeks -->
<ellipse cx="56" cy="68" rx="6" ry="5" fill="#df9080" opacity="0.35"/>
<ellipse cx="88" cy="68" rx="6" ry="5" fill="#df9080" opacity="0.35"/>
<!-- eyes & brows -->
<path d="M54.5,53 C58,51.8 63,51.8 67,53.2" stroke="#c0907e" stroke-width="1.1" fill="none"/>
<path d="M78,53.2 C82,51.8 87,51.8 91,53" stroke="#c0907e" stroke-width="1.1" fill="none"/>
<path d="M55.5,57.5 C58,55 64,54.8 68,57.2 C64.5,59.6 59,59.8 55.5,57.5 Z" fill="#6a4844"/>
<path d="M77.5,57.2 C81,54.8 87,55 90,57.5 C87,59.8 81.5,59.6 77.5,57.2 Z" fill="#6a4844"/>
<ellipse cx="62" cy="57.3" rx="1.6" ry="1.3" fill="#3a2a2a"/>
<ellipse cx="84" cy="57.3" rx="1.6" ry="1.3" fill="#3a2a2a"/>
<!-- nose -->
<path d="M69.5,58 C69,63 68,67 67,70" stroke="#c98a78" stroke-width="1.1" fill="none" opacity="0.8"/>
<ellipse cx="74" cy="69.5" rx="5" ry="3.3" fill="#eab2a2"/>
<path d="M67.5,71.5 C70,73.8 78,73.8 80.5,71.5" stroke="#a86a5a" stroke-width="1" fill="none"/>
<!-- highlight -->
<ellipse cx="68" cy="35" rx="7" ry="4" fill="#f0cabe" opacity="0.35"/>
</svg>
</body></html>
